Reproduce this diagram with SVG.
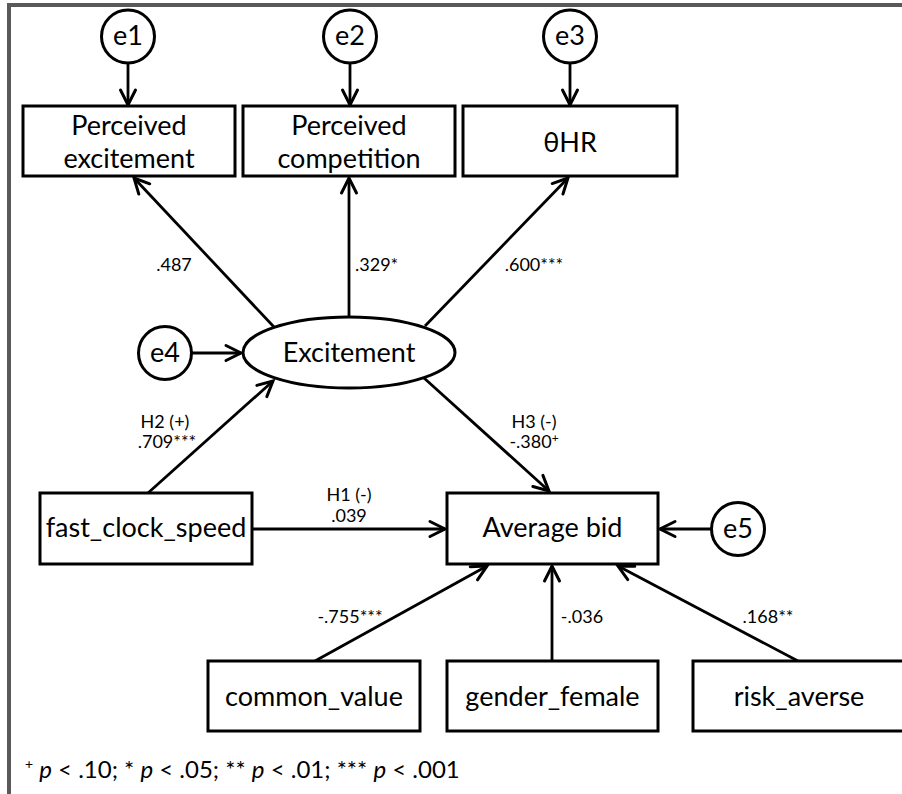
<svg xmlns="http://www.w3.org/2000/svg" width="902" height="794" viewBox="0 0 902 794">
  <defs>
    <marker id="arrow" markerUnits="userSpaceOnUse" markerWidth="24" markerHeight="24" refX="0" refY="0" viewBox="-20 -12 24 24" orient="auto" overflow="visible">
      <path d="M-15,-7.5 L0,0 L-15,7.5" fill="none" stroke="#000" stroke-width="3" stroke-linecap="round" stroke-linejoin="miter"/>
    </marker>
    <style>
      .box { fill: #fff; stroke: #000; stroke-width: 3; }
      .node-text { font-family: Lato, "Open Sans", "DejaVu Sans", sans-serif; font-size: 27px; fill: #000; text-anchor: middle; }
      .lbl { font-family: Lato, "Open Sans", "DejaVu Sans", sans-serif; font-size: 18px; fill: #000; text-anchor: middle; }
      .edge { fill: none; stroke: #000; stroke-width: 2.8; marker-end: url(#arrow); }
      .note { font-family: Lato, "Open Sans", "DejaVu Sans", sans-serif; font-size: 24px; fill: #000; }
    </style>
  </defs>

  <rect x="0" y="0" width="902" height="794" fill="#fff"/>
  <!-- outer frame -->
  <rect x="9" y="5" width="910" height="820" fill="none" stroke="#595959" stroke-width="4"/>

  <!-- connectors -->
  <g id="connectors">
    <line class="edge" x1="128" y1="63" x2="128" y2="105"/>
    <line class="edge" x1="350" y1="63" x2="350" y2="105"/>
    <line class="edge" x1="570" y1="63" x2="570" y2="105"/>
    <line class="edge" x1="274" y1="327" x2="134" y2="178"/>
    <line class="edge" x1="349" y1="317" x2="349" y2="178"/>
    <line class="edge" x1="425" y1="326" x2="568" y2="178"/>
    <line class="edge" x1="192" y1="353" x2="241" y2="353"/>
    <line class="edge" x1="148" y1="493" x2="273" y2="381"/>
    <line class="edge" x1="424" y1="378" x2="549" y2="491"/>
    <line class="edge" x1="252" y1="529" x2="445" y2="529"/>
    <line class="edge" x1="711" y1="529" x2="660" y2="529"/>
    <line class="edge" x1="315" y1="661" x2="487" y2="566"/>
    <line class="edge" x1="552" y1="661" x2="552" y2="566"/>
    <line class="edge" x1="798" y1="661" x2="618" y2="566"/>

    <text class="lbl" x="174" y="271">.487</text>
    <text class="lbl" x="355" y="271" style="text-anchor:start">.329*</text>
    <text class="lbl" x="534" y="271">.600***</text>
    <text class="lbl" x="165" y="428">H2 (+)</text>
    <text class="lbl" x="167" y="448">.709***</text>
    <text class="lbl" x="534" y="428">H3 (-)</text>
    <text class="lbl" x="534" y="448">-.380<tspan font-size="12" dy="-6">+</tspan></text>
    <text class="lbl" x="349" y="501">H1 (-)</text>
    <text class="lbl" x="349" y="522">.039</text>
    <text class="lbl" x="350" y="623">-.755***</text>
    <text class="lbl" x="582" y="623">-.036</text>
    <text class="lbl" x="768" y="623">.168**</text>
  </g>

  <!-- error terms -->
  <g id="e1"><circle class="box" cx="128" cy="36.5" r="26.5"/><text class="node-text" x="128" y="45">e1</text></g>
  <g id="e2"><circle class="box" cx="350" cy="36.5" r="26.5"/><text class="node-text" x="350" y="45">e2</text></g>
  <g id="e3"><circle class="box" cx="570" cy="36.5" r="26.5"/><text class="node-text" x="570" y="45">e3</text></g>
  <g id="e4"><circle class="box" cx="165" cy="353" r="26.5"/><text class="node-text" x="165" y="362">e4</text></g>
  <g id="e5"><circle class="box" cx="738" cy="529" r="26.5"/><text class="node-text" x="738" y="538">e5</text></g>

  <!-- indicators -->
  <g id="perceived-excitement">
    <rect class="box" x="23" y="106" width="212" height="70"/>
    <text class="node-text" x="129" y="135">Perceived</text>
    <text class="node-text" x="129" y="168">excitement</text>
  </g>
  <g id="perceived-competition">
    <rect class="box" x="243" y="106" width="212" height="70"/>
    <text class="node-text" x="349" y="135">Perceived</text>
    <text class="node-text" x="349" y="168">competition</text>
  </g>
  <g id="theta-hr">
    <rect class="box" x="463" y="106" width="214" height="70"/>
    <text class="node-text" x="570" y="152">θHR</text>
  </g>

  <!-- latent construct -->
  <g id="excitement">
    <ellipse class="box" cx="349" cy="352.5" rx="106" ry="35.5"/>
    <text class="node-text" x="349" y="362">Excitement</text>
  </g>

  <!-- predictors and outcome -->
  <g id="fast-clock-speed">
    <rect class="box" x="40" y="493" width="212" height="71"/>
    <text class="node-text" x="146" y="537">fast_clock_speed</text>
  </g>
  <g id="average-bid">
    <rect class="box" x="447" y="493" width="211" height="71"/>
    <text class="node-text" x="552.5" y="537">Average bid</text>
  </g>
  <g id="common-value">
    <rect class="box" x="208" y="661" width="212" height="70"/>
    <text class="node-text" x="314" y="706">common_value</text>
  </g>
  <g id="gender-female">
    <rect class="box" x="447" y="661" width="211" height="70"/>
    <text class="node-text" x="552.5" y="706">gender_female</text>
  </g>
  <g id="risk-averse">
    <rect class="box" x="693" y="661" width="212" height="70"/>
    <text class="node-text" x="799" y="706">risk_averse</text>
  </g>

  <!-- significance legend -->
  <text class="note" x="25" y="778"><tspan font-size="14" dy="-9">+</tspan><tspan dy="9"> </tspan><tspan font-style="italic">p</tspan> &lt; .10; * <tspan font-style="italic">p</tspan> &lt; .05; ** <tspan font-style="italic">p</tspan> &lt; .01; *** <tspan font-style="italic">p</tspan> &lt; .001</text>
</svg>
